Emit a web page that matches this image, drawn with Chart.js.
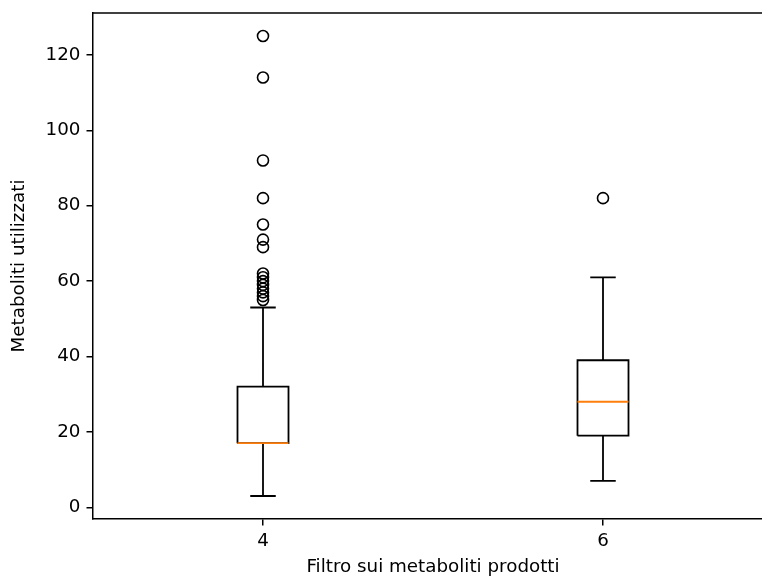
<!DOCTYPE html>
<html>
<head>
<meta charset="utf-8">
<script src="https://cdn.jsdelivr.net/npm/chart.js@4"></script>
<style>
  html, body { margin: 0; padding: 0; overflow: hidden; background: #fff; }
</style>
</head>
<body>
<canvas id="boxChart" width="800" height="578"></canvas>
<script>
// box plot values
const categories = ["4", "6"];
const whiskerLow = [3, 7];
const q1Values = [17, 19];
const medianValues = [17, 28];
const q3Values = [32, 39];
const whiskerHigh = [53, 61];
const outliers = [
  [125, 114, 92, 82, 75, 71, 69, 62, 61, 60, 59, 58, 57, 56, 55],
  [82]
];
const yTicks = [0, 20, 40, 60, 80, 100, 120];

const boxHalf = 0.075;
const capHalf = 0.0375;
const fontFamily = "'DejaVu Sans', sans-serif";
const fontSize = 18.3;

// build line segments for each box (null y breaks the line)
const boxLines = [];
const medianLines = [];
const outlierPoints = [];
for (var i = 0; i < categories.length; i++) {
  const pos = i + 1;
  boxLines.push(
    {x: pos - boxHalf, y: q1Values[i]}, {x: pos + boxHalf, y: q1Values[i]},
    {x: pos + boxHalf, y: q3Values[i]}, {x: pos - boxHalf, y: q3Values[i]},
    {x: pos - boxHalf, y: q1Values[i]}, {x: pos, y: null},
    {x: pos, y: q1Values[i]}, {x: pos, y: whiskerLow[i]}, {x: pos, y: null},
    {x: pos - capHalf, y: whiskerLow[i]}, {x: pos + capHalf, y: whiskerLow[i]}, {x: pos, y: null},
    {x: pos, y: q3Values[i]}, {x: pos, y: whiskerHigh[i]}, {x: pos, y: null},
    {x: pos - capHalf, y: whiskerHigh[i]}, {x: pos + capHalf, y: whiskerHigh[i]}
  );
  medianLines.push(
    {x: pos - boxHalf, y: medianValues[i]}, {x: pos + boxHalf, y: medianValues[i]}, {x: pos, y: null}
  );
  outliers[i].forEach((v) => outlierPoints.push({x: pos, y: v}));
  if (i < categories.length - 1) boxLines.push({x: pos, y: null});
}

// top spine; the right spine lies outside the picture, so keep the edge clean
const framePlugin = {
  id: "frame",
  afterDraw(chart) {
    const a = chart.chartArea;
    const ctx = chart.ctx;
    ctx.save();
    ctx.fillStyle = "#fff";
    ctx.fillRect(756, a.top + 1, 60, a.bottom - a.top - 2);
    ctx.strokeStyle = "#000";
    ctx.lineWidth = 1.5;
    ctx.beginPath();
    ctx.moveTo(a.left, a.top);
    ctx.lineTo(a.right, a.top);
    ctx.stroke();
    ctx.restore();
  }
};

var boxChart = new Chart("boxChart", {
  type: "scatter",
  data: {
    datasets: [{
      // medians first so they sit on top of the box edges
      data: medianLines,
      showLine: true,
      spanGaps: false,
      borderColor: "#ff7f0e",
      borderWidth: 1.8,
      pointRadius: 0
    }, {
      data: outlierPoints,
      showLine: false,
      pointStyle: "circle",
      pointRadius: 5.5,
      pointBorderWidth: 1.6,
      pointBorderColor: "#000",
      pointBackgroundColor: "rgba(0,0,0,0)"
    }, {
      data: boxLines,
      showLine: true,
      spanGaps: false,
      borderColor: "#000",
      borderWidth: 1.8,
      borderJoinStyle: "miter",
      pointRadius: 0
    }]
  },
  options: {
    responsive: false,
    animation: false,
    layout: { padding: { top: 13, right: 27, left: 0, bottom: 0 } },
    plugins: {
      legend: { display: false },
      tooltip: { enabled: false }
    },
    scales: {
      x: {
        type: "linear",
        min: 0.5,
        max: 2.5,
        afterFit(scale) {
          scale.height = 59;
          scale.paddingLeft = 0;
          scale.paddingRight = 0;
        },
        afterBuildTicks(scale) {
          scale.ticks = categories.map((c, i) => ({ value: i + 1 }));
        },
        ticks: {
          color: "#000",
          padding: 5,
          font: { family: fontFamily, size: fontSize },
          callback: (v) => categories[v - 1]
        },
        grid: {
          drawOnChartArea: false,
          drawTicks: true,
          tickLength: 6.5,
          color: "#000",
          lineWidth: 1.5
        },
        border: { color: "#000", width: 1.5 },
        title: {
          display: true,
          text: "Filtro sui metaboliti prodotti",
          color: "#000",
          padding: { top: 0, bottom: 0 },
          font: { family: fontFamily, size: fontSize }
        }
      },
      y: {
        min: -3.1,
        max: 131.1,
        afterFit(scale) {
          scale.width = 93;
          scale.paddingTop = 0;
          scale.paddingBottom = 0;
        },
        afterBuildTicks(scale) {
          scale.ticks = yTicks.map((v) => ({ value: v }));
        },
        ticks: {
          color: "#000",
          padding: 6,
          font: { family: fontFamily, size: fontSize }
        },
        grid: {
          drawOnChartArea: false,
          drawTicks: true,
          tickLength: 6.5,
          color: "#000",
          lineWidth: 1.5
        },
        border: { color: "#000", width: 1.5 },
        title: {
          display: true,
          text: "Metaboliti utilizzati",
          color: "#000",
          padding: { top: 8, bottom: 0 },
          font: { family: fontFamily, size: fontSize }
        }
      }
    }
  },
  plugins: [framePlugin]
});
</script>
</body>
</html>
